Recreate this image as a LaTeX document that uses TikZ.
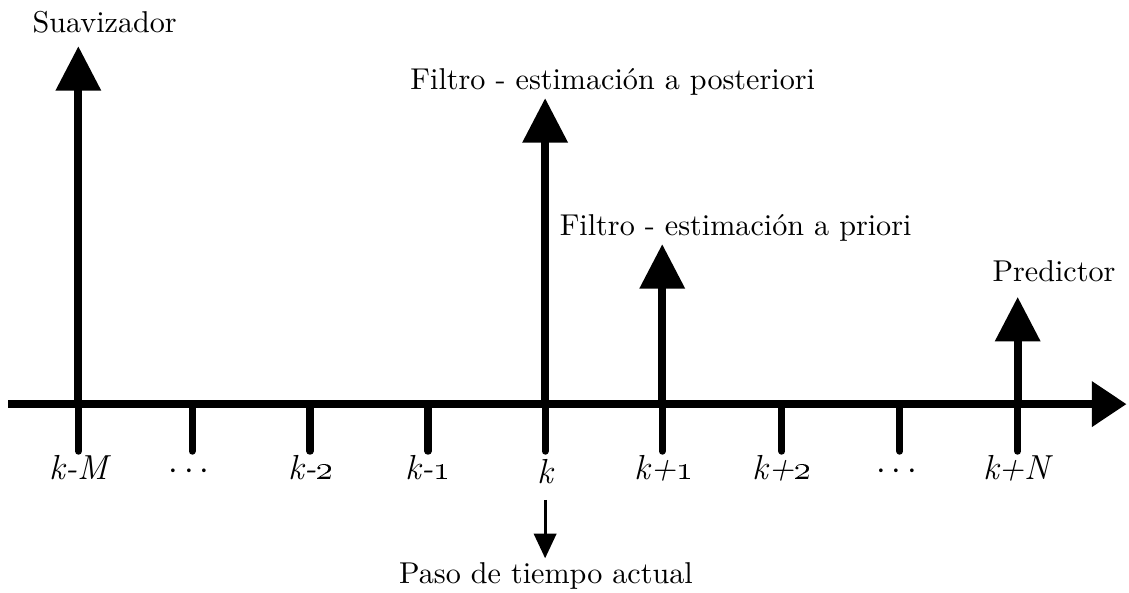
\documentclass[tikz,border=0pt]{standalone}
\usepackage{amsmath,amssymb}
\usepackage{tikz}
\usetikzlibrary{arrows.meta,positioning}

\begin{document}
\begin{tikzpicture}[
  axis/.style={line width=2.7pt,-{Triangle[length=4.2mm,width=5.3mm]}},
  up/.style={line width=2.7pt,-{Triangle[length=5.4mm,width=5.3mm]}},
  tick/.style={line width=2.5pt,line cap=round},
  small/.style={line width=1.1pt,-{Triangle[length=3mm,width=2.7mm]}},
  lab/.style={font=\large,anchor=base,inner sep=0pt},
  txt/.style={font=\fontsize{10.4}{12}\selectfont,anchor=base,inner sep=0pt}]
\useasboundingbox (0,0) rectangle (13.69,7.18);
% time axis
\coordinate (a0) at (0.10,2.28);
\coordinate (a1) at (13.66,2.28);
\draw[axis] (a0) -- (a1);
% time steps
\coordinate (tM) at (0.95,2.28);
\coordinate (td1) at (2.33,2.28);
\coordinate (t2) at (3.76,2.28);
\coordinate (t1) at (5.19,2.28);
\coordinate (tk) at (6.61,2.28);
\coordinate (p1) at (8.03,2.28);
\coordinate (p2) at (9.48,2.28);
\coordinate (td2) at (10.91,2.28);
\coordinate (pN) at (12.34,2.28);
\draw[tick] (tM) -- ++(0,-0.57);
\draw[tick] (td1) -- ++(0,-0.57);
\draw[tick] (t2) -- ++(0,-0.57);
\draw[tick] (t1) -- ++(0,-0.57);
\draw[tick] (tk) -- ++(0,-0.57);
\draw[tick] (p1) -- ++(0,-0.57);
\draw[tick] (p2) -- ++(0,-0.57);
\draw[tick] (td2) -- ++(0,-0.57);
\draw[tick] (pN) -- ++(0,-0.57);
\node[lab] (lM) at (0.98,1.36) {\textit{k-M}};
\node[lab] (ld1) at (2.33,1.36) {$\cdots$};
\node[lab] (l2) at (3.77,1.36) {\textit{k-\oldstylenums{2}}};
\node[lab] (l1) at (5.19,1.36) {\textit{k-\oldstylenums{1}}};
\node[lab] (lk) at (6.62,1.32) {\textit{k}};
\node[lab] (lp1) at (8.05,1.36) {\textit{k+\oldstylenums{1}}};
\node[lab] (lp2) at (9.48,1.36) {\textit{k+\oldstylenums{2}}};
\node[lab] (ld2) at (10.91,1.36) {$\cdots$};
\node[lab] (lpN) at (12.35,1.36) {\textit{k+N}};
% estimates
\coordinate (sM) at (0.95,6.62);
\coordinate (sk) at (6.61,5.99);
\coordinate (sp) at (8.03,4.22);
\coordinate (sN) at (12.34,3.58);
\draw[up] (tM) -- (sM);
\draw[up] (tk) -- (sk);
\draw[up] (p1) -- (sp);
\draw[up] (pN) -- (sN);
\node[txt] (suav) at (1.27,6.78) {Suavizador};
\node[txt] (post) at (7.43,6.10) {Filtro - estimación a posteriori};
\node[txt] (prio) at (8.92,4.33) {Filtro - estimación a priori};
\node[txt] (pred) at (12.78,3.77) {Predictor};
% current step
\coordinate (c0) at (6.61,1.12);
\coordinate (c1) at (6.61,0.41);
\draw[small] (c0) -- (c1);
\node[txt] (paso) at (6.62,0.11) {Paso de tiempo actual};
\end{tikzpicture}
\end{document}
